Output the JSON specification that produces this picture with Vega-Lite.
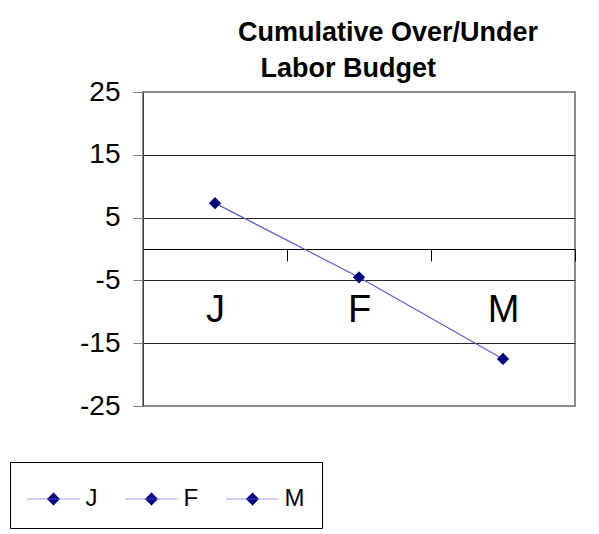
{
  "$schema": "https://vega.github.io/schema/vega-lite/v6.json",
  "width": 432,
  "height": 314,
  "autosize": "none",
  "padding": {"left": 143, "top": 92, "right": 24, "bottom": 128},
  "background": "white",
  "config": {
    "view": {"stroke": "#8c8c8c", "strokeWidth": 2},
    "font": "Liberation Sans"
  },
  "title": {
    "text": ["Cumulative Over/Under", "\u200b\u00a0\u00a0\u00a0Labor Budget"],
    "anchor": "start",
    "frame": "group",
    "dx": 95,
    "dy": 5,
    "fontSize": 27,
    "fontWeight": "bold",
    "font": "Liberation Sans",
    "color": "black",
    "lineHeight": 36,
    "offset": 0
  },
  "data": {
    "values": [
      {"month": "J", "value": 7.3},
      {"month": "F", "value": -4.5},
      {"month": "M", "value": -17.5}
    ]
  },
  "encoding": {
    "x": {
      "field": "month",
      "type": "nominal",
      "sort": ["J", "F", "M"],
      "scale": {"type": "band", "paddingInner": 0, "paddingOuter": 0},
      "axis": {
        "title": null,
        "orient": "bottom",
        "offset": -157,
        "domainColor": "black",
        "domainWidth": 1,
        "tickColor": "black",
        "tickSize": 12,
        "tickBand": "extent",
        "labelFontSize": 38,
        "labelColor": "black",
        "labelBaseline": "alphabetic",
        "labelPadding": 60,
        "labelAngle": 0,
        "grid": false
      }
    },
    "y": {
      "field": "value",
      "type": "quantitative",
      "scale": {"domain": [-25, 25], "nice": false, "zero": false},
      "axis": {
        "title": null,
        "values": [-25, -15, -5, 5, 15, 25],
        "labelExpr": "datum.value + ''",
        "grid": true,
        "gridColor": {
          "condition": {"test": "datum.value === 25 || datum.value === -25", "value": "#8c8c8c"},
          "value": "#262626"
        },
        "domainColor": "#404040",
        "tickColor": "#808080",
        "tickSize": 10,
        "labelFontSize": 28,
        "labelColor": "black",
        "labelPadding": 13
      }
    }
  },
  "layer": [
    {"mark": {"type": "line", "color": "#5c5cd0", "strokeWidth": 1.2}},
    {
      "mark": {"type": "point", "shape": "diamond", "filled": true, "size": 150, "opacity": 1},
      "encoding": {
        "color": {
          "field": "month",
          "type": "nominal",
          "sort": ["J", "F", "M"],
          "scale": {"domain": ["J", "F", "M"], "range": ["#000080", "#000080", "#000080"]},
          "legend": {
            "orient": "none",
            "legendX": -133,
            "legendY": 370,
            "direction": "horizontal",
            "title": null,
            "strokeColor": "black",
            "fillColor": "white",
            "cornerRadius": 0,
            "padding": 17,
            "symbolType": "M-1.333,0H1.333M0,-0.333L0.333,0L0,0.333L-0.333,0Z",
            "symbolSize": 1521,
            "symbolOffset": 6.5,
            "symbolStrokeColor": "#7070d0",
            "symbolStrokeWidth": 1,
            "symbolDash": [2, 1],
            "symbolFillColor": "#000080",
            "symbolOpacity": 1,
            "labelOffset": 12,
            "labelFontSize": 24,
            "labelColor": "black",
            "columnPadding": 25,
            "encode": {
              "symbols": {
                "enter": {
                  "stroke": {"value": "#7070d0"},
                  "strokeWidth": {"value": 1}
                },
                "update": {
                  "stroke": {"value": "#7070d0"},
                  "strokeWidth": {"value": 1},
                  "strokeDash": {"value": [2, 1]},
                  "fill": {"value": "#000080"},
                  "opacity": {"value": 1}
                }
              }
            }
          }
        }
      }
    }
  ]
}
